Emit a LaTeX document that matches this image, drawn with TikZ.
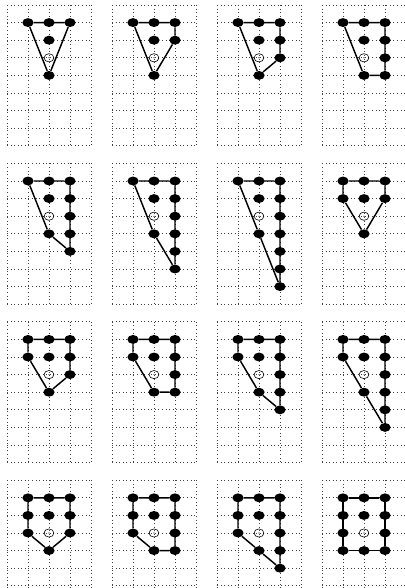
\documentclass[tikz,border=0pt]{standalone}
\usetikzlibrary{shapes.geometric}

\tikzset{
  gridline/.style={black!75, line width=0.65pt, dash pattern=on 0.65pt off 2.4pt},
  dot/.style={ellipse, fill=black, inner sep=0pt, minimum width=9.6pt, minimum height=7.6pt},
  hole/.style={ellipse, draw, line width=0.5pt, inner sep=0pt, minimum width=8.4pt, minimum height=7pt,
    path picture={\fill (path picture bounding box.center) circle (0.5pt);}},
  edge/.style={line width=1.25pt}
}

% one panel: #1 column, #2 row, #3 filled dots, #4 outline
\newcommand{\panelgrid}[4]{%
  \begin{scope}[shift={(5*#1,9*#2)}, name prefix=p#1#2-]
    \foreach \i in {0,...,4} \draw[gridline] (\i,0) -- (\i,8);
    \foreach \j in {0,...,8} \draw[gridline] (0,\j) -- (4,\j);
    \node[hole] (o) at (2,3) {};
    \foreach \i/\j in {#3} \node[dot] (d\i\j) at (\i,\j) {};
    \draw[edge] #4;
  \end{scope}}

\begin{document}
\begin{tikzpicture}[x=0.63cm, y=-0.528cm]
\useasboundingbox (-0.333,-0.284) rectangle (18.952,33.125);
\clip (-0.333,-0.284) rectangle (18.952,33.125);
% first row
\panelgrid{0}{0}{1/1,2/1,3/1,2/2,2/4}{(d11) -- (d31) -- (d24) -- (d11)}
\panelgrid{1}{0}{1/1,2/1,3/1,2/2,3/2,2/4}{(d11) -- (d31) -- (d32) -- (d24) -- (d11)}
\panelgrid{2}{0}{1/1,2/1,3/1,2/2,3/2,3/3,2/4}{(d11) -- (d31) -- (d33) -- (d24) -- (d11)}
\panelgrid{3}{0}{1/1,2/1,3/1,2/2,3/2,3/3,2/4,3/4}{(d11) -- (d31) -- (d34) -- (d24) -- (d11)}
% second row
\panelgrid{0}{1}{1/1,2/1,3/1,2/2,3/2,3/3,2/4,3/4,3/5}{(d11) -- (d31) -- (d35) -- (d24) -- (d11)}
\panelgrid{1}{1}{1/1,2/1,3/1,2/2,3/2,3/3,2/4,3/4,3/5,3/6}{(d11) -- (d31) -- (d36) -- (d24) -- (d11)}
\panelgrid{2}{1}{1/1,2/1,3/1,2/2,3/2,3/3,2/4,3/4,3/5,3/6,3/7}{(d11) -- (d31) -- (d37) -- (d24) -- (d11)}
\panelgrid{3}{1}{1/1,2/1,3/1,1/2,2/2,3/2,2/4}{(d11) -- (d31) -- (d32) -- (d24) -- (d12) -- (d11)}
% third row
\panelgrid{0}{2}{1/1,2/1,3/1,1/2,2/2,3/2,3/3,2/4}{(d11) -- (d31) -- (d33) -- (d24) -- (d12) -- (d11)}
\panelgrid{1}{2}{1/1,2/1,3/1,1/2,2/2,3/2,3/3,2/4,3/4}{(d11) -- (d31) -- (d34) -- (d24) -- (d12) -- (d11)}
\panelgrid{2}{2}{1/1,2/1,3/1,1/2,2/2,3/2,3/3,2/4,3/4,3/5}{(d11) -- (d31) -- (d35) -- (d24) -- (d12) -- (d11)}
\panelgrid{3}{2}{1/1,2/1,3/1,1/2,2/2,3/2,3/3,2/4,3/4,3/5,3/6}{(d11) -- (d31) -- (d36) -- (d24) -- (d12) -- (d11)}
% fourth row
\panelgrid{0}{3}{1/1,2/1,3/1,1/2,2/2,3/2,1/3,3/3,2/4}{(d11) -- (d31) -- (d33) -- (d24) -- (d13) -- (d11)}
\panelgrid{1}{3}{1/1,2/1,3/1,1/2,2/2,3/2,1/3,3/3,2/4,3/4}{(d11) -- (d31) -- (d34) -- (d24) -- (d13) -- (d11)}
\panelgrid{2}{3}{1/1,2/1,3/1,1/2,2/2,3/2,1/3,3/3,2/4,3/4,3/5}{(d11) -- (d31) -- (d35) -- (d24) -- (d13) -- (d11)}
\panelgrid{3}{3}{1/1,2/1,3/1,1/2,2/2,3/2,1/3,3/3,1/4,2/4,3/4}{(d11) -- (d31) -- (d34) -- (d14) -- (d11)}
\end{tikzpicture}
\end{document}
